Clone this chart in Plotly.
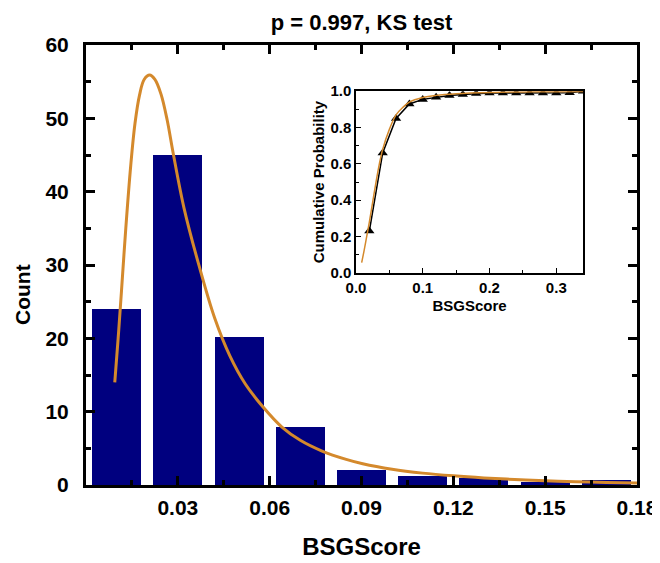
import plotly.graph_objects as go

# ---- data ----
bin_centers = [0.01, 0.03, 0.05, 0.07, 0.09, 0.11, 0.13, 0.15, 0.17]
counts = [24.0, 45.0, 20.2, 7.9, 2.1, 1.25, 0.9, 0.35, 0.7]

fit_x = [0.0094, 0.0105, 0.0116, 0.0130, 0.0146, 0.0160, 0.0175, 0.0190, 0.0208,
         0.0225, 0.0245, 0.0265, 0.0285, 0.0320, 0.0370, 0.0420, 0.0470, 0.0520,
         0.0577, 0.0640, 0.0700, 0.0773, 0.0850, 0.0904, 0.1000, 0.1100, 0.1200,
         0.1300, 0.1400, 0.1500, 0.1600, 0.1700, 0.1800]
fit_y = [14.0, 20.0, 26.5, 35.0, 43.5, 49.3, 53.2, 55.3, 55.9,
         55.3, 53.3, 49.8, 45.2, 37.8, 29.8, 22.8, 17.6, 13.8,
         10.7, 7.9, 6.1, 4.6, 3.5, 2.9, 2.15, 1.62, 1.25,
         0.97, 0.75, 0.58, 0.45, 0.35, 0.27]

cdf_x = [0.02, 0.04, 0.06, 0.08, 0.10, 0.12, 0.14, 0.16, 0.18, 0.20, 0.22, 0.24,
         0.26, 0.28, 0.30, 0.32, 0.34]
cdf_y = [0.23, 0.66, 0.85, 0.93, 0.955, 0.967, 0.976, 0.982, 0.987, 0.99, 0.99,
         0.99, 0.99, 0.99, 0.99, 0.992, 1.0]

cdf_fit_x = [0.0085, 0.012, 0.016, 0.02, 0.025, 0.03, 0.035, 0.04, 0.05, 0.06, 0.07,
             0.08, 0.10, 0.12, 0.15, 0.20, 0.25, 0.30, 0.34]
cdf_fit_y = [0.057, 0.12, 0.20, 0.28, 0.39, 0.50, 0.60, 0.68, 0.79, 0.87, 0.91,
             0.94, 0.965, 0.977, 0.986, 0.993, 0.996, 0.997, 0.998]

x_tickvals = [0.03, 0.06, 0.09, 0.12, 0.15, 0.18]
x_ticktext = ["0.03", "0.06", "0.09", "0.12", "0.15", "0.18"]

NAVY = "#00007F"
ORANGE = "#D4892C"
FONT = "Liberation Sans, Arial, sans-serif"

# the page body adds an 8px offset; layout numbers below compensate for it
fig = go.Figure()

fig.add_trace(go.Bar(x=bin_centers, y=counts, width=0.016,
                     marker=dict(color=NAVY, line=dict(width=0)),
                     xaxis="x", yaxis="y", showlegend=False))
fig.add_trace(go.Scatter(x=fit_x, y=fit_y, mode="lines",
                         line=dict(color=ORANGE, width=3, shape="spline", smoothing=1),
                         xaxis="x", yaxis="y", showlegend=False))

fig.add_trace(go.Scatter(x=cdf_x, y=cdf_y, mode="lines+markers",
                         line=dict(color="black", width=1.5),
                         marker=dict(symbol="triangle-up", size=9, color="black"),
                         xaxis="x2", yaxis="y2", showlegend=False))
fig.add_trace(go.Scatter(x=cdf_fit_x, y=cdf_fit_y, mode="lines",
                         line=dict(color=ORANGE, width=1.5, shape="spline"),
                         xaxis="x2", yaxis="y2", showlegend=False))

main_axis = dict(showline=True, linewidth=3, linecolor="black", mirror="allticks",
                 ticks="inside", ticklen=9, tickwidth=2.5, tickcolor="black",
                 showgrid=False, zeroline=False, automargin=False,
                 ticklabeloverflow="allow",
                 tickfont=dict(family=FONT, size=21, color="black", weight="bold"))

fig.update_layout(
    width=660, height=563,
    margin=dict(l=78, r=31, t=37, b=86),
    paper_bgcolor="white", plot_bgcolor="white",
    bargap=0,
    title=dict(text="p = 0.997, KS test", x=0.5, xref="paper", xanchor="center",
               y=1 - 14 / 563, yref="container", yanchor="middle",
               font=dict(family=FONT, size=22, color="black", weight="bold")),
    xaxis=dict(main_axis, range=[0, 0.18], domain=[0, 1], anchor="y",
               tickmode="array", tickvals=x_tickvals, ticktext=x_ticktext,
               ticklabelstandoff=2,
               minor=dict(tickmode="linear", tick0=0, dtick=0.015, ticks="inside",
                          ticklen=5, tickwidth=2.5, tickcolor="black"),
               title=dict(text="BSGScore", standoff=20,
                          font=dict(family=FONT, size=24, color="black", weight="bold"))),
    yaxis=dict(main_axis, range=[0, 60], domain=[0, 1], anchor="x",
               tickmode="linear", tick0=0, dtick=10, ticklabelstandoff=10,
               minor=dict(tickmode="linear", tick0=0, dtick=5, ticks="inside",
                          ticklen=5, tickwidth=2.5, tickcolor="black")),
    xaxis2=dict(domain=[0.490, 0.902], anchor="y2", range=[0, 0.34],
                showline=True, linewidth=1.5, linecolor="black", mirror=True,
                ticks="inside", ticklen=5, tickwidth=1.2, tickcolor="black",
                tickmode="array", tickvals=[0.0, 0.1, 0.2, 0.3],
                ticktext=["0.0", "0.1", "0.2", "0.3"],
                minor=dict(tickmode="linear", tick0=0, dtick=0.05, ticks="inside",
                           ticklen=3, tickwidth=1, tickcolor="black"),
                showgrid=False, zeroline=False, automargin=False,
                tickfont=dict(family=FONT, size=15, color="black", weight="bold"),
                title=dict(text="BSGScore", standoff=6,
                           font=dict(family=FONT, size=15, color="black", weight="bold"))),
    yaxis2=dict(domain=[0.482, 0.895], anchor="x2", range=[0, 1.0],
                showline=True, linewidth=1.5, linecolor="black", mirror=True,
                ticks="inside", ticklen=5, tickwidth=1.2, tickcolor="black",
                tickmode="linear", tick0=0, dtick=0.2, tickformat=".1f",
                minor=dict(tickmode="linear", tick0=0, dtick=0.1, ticks="inside",
                           ticklen=3, tickwidth=1, tickcolor="black"),
                showgrid=False, zeroline=False, automargin=False,
                tickfont=dict(family=FONT, size=15, color="black", weight="bold"),
                title=dict(text="Cumulative Probability", standoff=2,
                           font=dict(family=FONT, size=15, color="black", weight="bold"))),
    annotations=[dict(text="Count", textangle=-90, xref="paper", yref="paper",
                      x=-64 / 551, y=(477 - 287) / 440, xanchor="center", yanchor="middle",
                      showarrow=False,
                      font=dict(family=FONT, size=21, color="black", weight="bold"))],
)

fig.write_html("out.html")
